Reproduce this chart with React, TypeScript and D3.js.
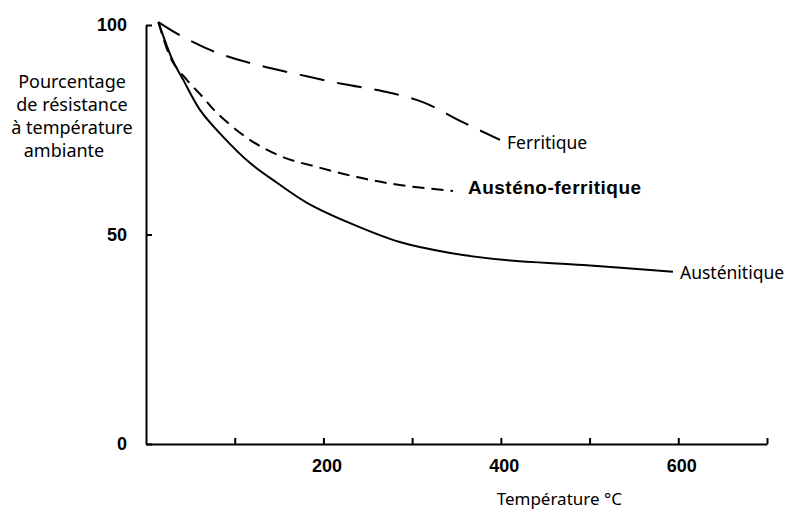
import React, { useRef, useEffect } from "react";
import * as d3 from "d3";

// temperature (°C) and % of room-temperature strength
const tempFerritique = [14, 38, 81, 125, 174, 222, 267, 312, 357, 399];
const valFerritique = [100.7, 97.6, 93.3, 90.5, 88.1, 85.9, 84.2, 81.6, 76.8, 72.6];

const tempAustenoFerritique = [14, 29, 46, 64, 80, 117, 154, 193, 238, 286, 346];
const valAustenoFerritique = [100.7, 91.6, 86.9, 82.8, 79, 72.6, 68.5, 66.1, 63.7, 61.8, 60.4];

const tempAustenitique = [14, 30, 42, 61, 87, 117, 148, 182, 230, 286, 343, 405, 493, 594];
const valAustenitique = [100.7, 91.6, 86.9, 79.7, 73.3, 67.1, 62.3, 57.5, 52.7, 48.2, 45.6, 43.9, 42.7, 41.1];

const xTicks = [100, 200, 300, 400, 500, 600, 700];
const xTickLabels = [200, 400, 600];
const yTicks = [0, 50, 100];
const yTitle = ["Pourcentage", "de résistance", "à température", "ambiante"];

const width = 794;
const height = 513;
const regular = "'Noto Sans', sans-serif";
const bold = "'Liberation Sans', Arial, sans-serif";

const App = () => {
  const ref = useRef<SVGSVGElement>(null);

  const x = d3.scaleLinear().domain([0, 700]).range([146, 767]);
  const y = d3.scaleLinear().domain([0, 100]).range([444, 25]);

  const line = d3
    .line<[number, number]>()
    .x((d) => x(d[0]))
    .y((d) => y(d[1]))
    .curve(d3.curveCatmullRom);

  const series = [
    { name: "Ferritique", t: tempFerritique, v: valFerritique, dash: "25,13", weight: "normal", dx: 7, dy: 3 },
    { name: "Austéno-ferritique", t: tempAustenoFerritique, v: valAustenoFerritique, dash: "12,7", weight: "bold", dx: 15, dy: -4 },
    { name: "Austénitique", t: tempAustenitique, v: valAustenitique, dash: "none", weight: "normal", dx: 7, dy: 1 },
  ];

  useEffect(() => {
    const svg = d3.select(ref.current);
    svg.selectAll(".axis").remove();

    const gx = svg
      .append("g")
      .attr("class", "axis")
      .attr("transform", `translate(0,${y(0)})`)
      .call(
        d3
          .axisBottom(x)
          .tickValues(xTicks)
          .tickSizeInner(-6)
          .tickSizeOuter(0)
          .tickPadding(15)
          .tickFormat((d) => (xTickLabels.includes(d as number) ? String(d) : ""))
      );

    const gy = svg
      .append("g")
      .attr("class", "axis")
      .attr("transform", `translate(${x(0)},0)`)
      .call(d3.axisLeft(y).tickValues(yTicks).tickSizeInner(-6).tickSizeOuter(0).tickPadding(19));

    [gx, gy].forEach((g) => {
      g.selectAll("path, line").attr("stroke", "#000").attr("stroke-width", 2);
      g.selectAll("text")
        .attr("fill", "#000")
        .style("font-family", bold)
        .style("font-weight", "bold")
        .style("font-size", "18px");
    });
    gx.selectAll("text").attr("dx", 3);
  }, []);

  return (
    <div style={{ position: "absolute", left: 0, top: 0 }}>
      <svg ref={ref} width={width} height={height} style={{ display: "block", background: "#fff" }}>
        {series.map((s) => {
          const pts = s.t.map((t, i) => [t, s.v[i]] as [number, number]);
          const last = pts[pts.length - 1];
          return (
            <g key={s.name}>
              <path
                d={line(pts) || ""}
                fill="none"
                stroke="#000"
                strokeWidth={2}
                strokeDasharray={s.dash}
              />
              <text
                x={x(last[0]) + s.dx}
                y={y(last[1]) + s.dy}
                dy="0.35em"
                fontFamily={s.weight === "bold" ? bold : regular}
                fontWeight={s.weight}
                fontSize={s.weight === "bold" ? 19 : 17.5}
                letterSpacing={s.weight === "bold" ? 0.5 : 0}
              >
                {s.name}
              </text>
            </g>
          );
        })}
        <text fontFamily={regular} fontSize={18} textAnchor="middle">
          {yTitle.map((t, i) => (
            <tspan key={t} x={i === 3 ? 64 : 72} y={88 + i * 23}>
              {t}
            </tspan>
          ))}
        </text>
        <text x={622} y={505} fontFamily={regular} fontSize={17} textAnchor="end">
          Température °C
        </text>
      </svg>
    </div>
  );
};

export default App;
